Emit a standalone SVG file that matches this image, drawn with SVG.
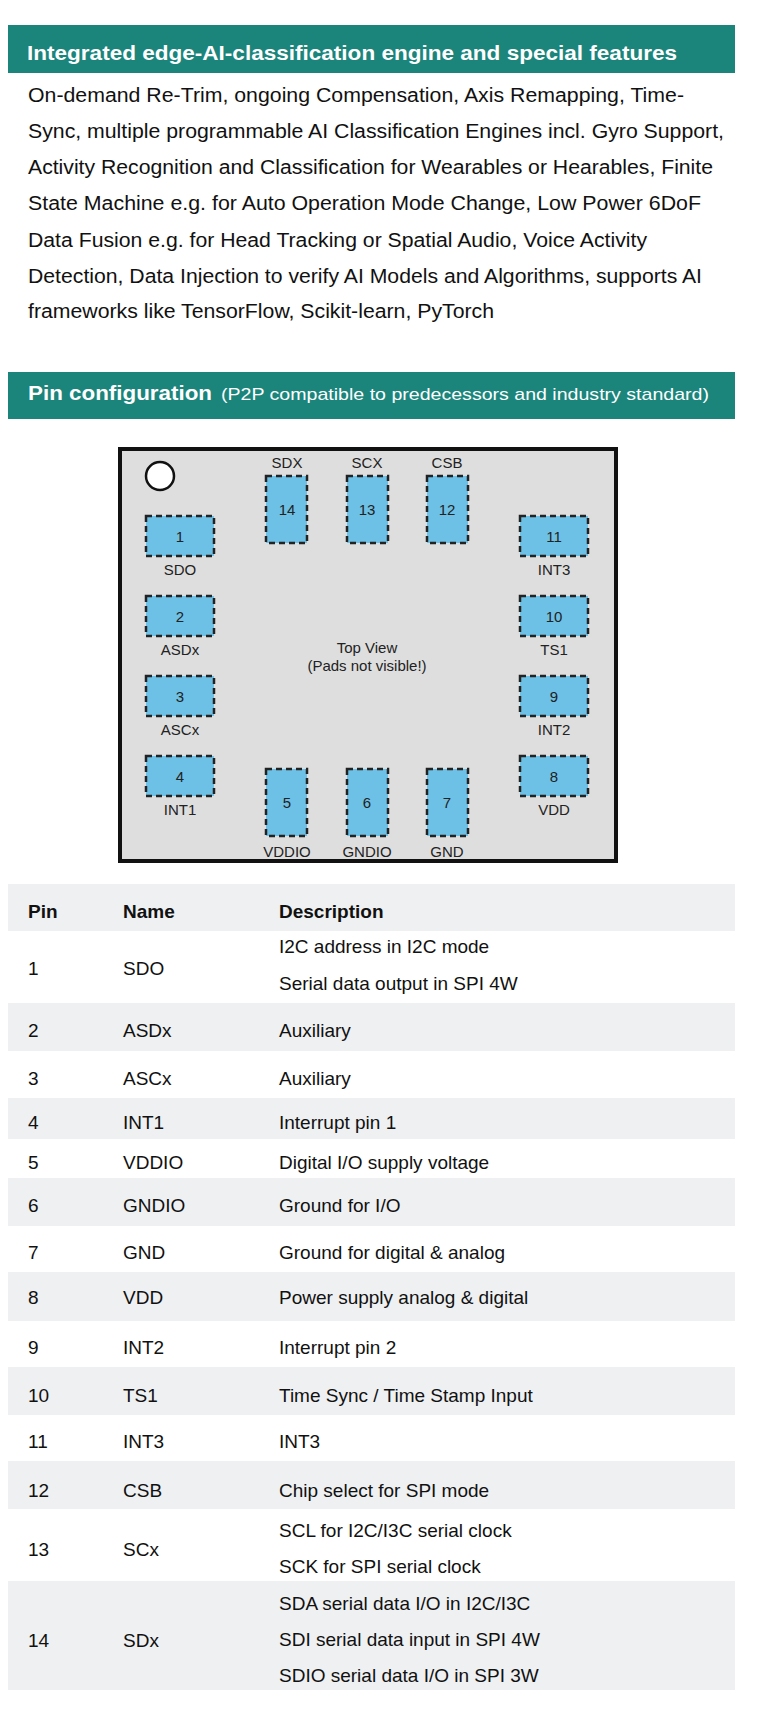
<svg xmlns="http://www.w3.org/2000/svg" width="759" height="1724" viewBox="0 0 759 1724">
<style>
.band{fill:#1b847b}
.ht{font-family:"Liberation Sans",Arial,sans-serif;font-weight:bold;font-size:20px;fill:#fff}
.hn{font-family:"Liberation Sans",Arial,sans-serif;font-size:17px;fill:#fff}
.body{font-family:"Liberation Sans",Arial,sans-serif;font-size:20px;fill:#111}
.pad{fill:#6dc1e6;stroke:#222;stroke-width:2.5;stroke-dasharray:6 4}
.pn{font-family:"Liberation Sans",Arial,sans-serif;font-size:15px;fill:#222;text-anchor:middle}
.row{fill:#eef0f2}
.th{font-family:"Liberation Sans",Arial,sans-serif;font-weight:bold;font-size:19px;fill:#111}
.td{font-family:"Liberation Sans",Arial,sans-serif;font-size:19px;fill:#111}
</style>
<rect width="759" height="1724" fill="#fff"/>
<g id="features">
<rect class="band" x="8" y="25" width="727" height="48"/>
<text class="ht" x="27" y="60" textLength="650" lengthAdjust="spacingAndGlyphs">Integrated edge-AI-classification engine and special features</text>
<text class="body" x="28" y="102" textLength="656" lengthAdjust="spacingAndGlyphs">On-demand Re-Trim, ongoing Compensation, Axis Remapping, Time-</text>
<text class="body" x="28" y="138" textLength="696" lengthAdjust="spacingAndGlyphs">Sync, multiple programmable AI Classification Engines incl. Gyro Support,</text>
<text class="body" x="28" y="174" textLength="685" lengthAdjust="spacingAndGlyphs">Activity Recognition and Classification for Wearables or Hearables, Finite</text>
<text class="body" x="28" y="210" textLength="673" lengthAdjust="spacingAndGlyphs">State Machine e.g. for Auto Operation Mode Change, Low Power 6DoF</text>
<text class="body" x="28" y="247" textLength="619" lengthAdjust="spacingAndGlyphs">Data Fusion e.g. for Head Tracking or Spatial Audio, Voice Activity</text>
<text class="body" x="28" y="283" textLength="674" lengthAdjust="spacingAndGlyphs">Detection, Data Injection to verify AI Models and Algorithms, supports AI</text>
<text class="body" x="28" y="318" textLength="466" lengthAdjust="spacingAndGlyphs">frameworks like TensorFlow, Scikit-learn, PyTorch</text>
</g>
<g id="pinconfig-header">
<rect class="band" x="8" y="372" width="727" height="47"/>
<text x="28" y="400"><tspan class="ht" textLength="184" lengthAdjust="spacingAndGlyphs">Pin configuration</tspan><tspan class="hn" x="221" textLength="488" lengthAdjust="spacingAndGlyphs">(P2P compatible to predecessors and industry standard)</tspan></text>
</g>
<g id="chip">
<rect x="120" y="449" width="496" height="412" fill="#dedede" stroke="#111" stroke-width="4"/>
<circle cx="160" cy="476" r="14" fill="#fff" stroke="#111" stroke-width="2.5"/>
<text class="pn" x="367" y="653">Top View</text>
<text class="pn" x="367" y="671">(Pads not visible!)</text>
</g>
<g id="pin1"><rect class="pad" x="146" y="516" width="68" height="40"/><text class="pn" x="180" y="542">1</text><text class="pn" x="180" y="575">SDO</text></g>
<g id="pin2"><rect class="pad" x="146" y="596" width="68" height="40"/><text class="pn" x="180" y="622">2</text><text class="pn" x="180" y="655">ASDx</text></g>
<g id="pin3"><rect class="pad" x="146" y="676" width="68" height="40"/><text class="pn" x="180" y="702">3</text><text class="pn" x="180" y="735">ASCx</text></g>
<g id="pin4"><rect class="pad" x="146" y="756" width="68" height="40"/><text class="pn" x="180" y="782">4</text><text class="pn" x="180" y="815">INT1</text></g>
<g id="pin11"><rect class="pad" x="520" y="516" width="68" height="40"/><text class="pn" x="554" y="542">11</text><text class="pn" x="554" y="575">INT3</text></g>
<g id="pin10"><rect class="pad" x="520" y="596" width="68" height="40"/><text class="pn" x="554" y="622">10</text><text class="pn" x="554" y="655">TS1</text></g>
<g id="pin9"><rect class="pad" x="520" y="676" width="68" height="40"/><text class="pn" x="554" y="702">9</text><text class="pn" x="554" y="735">INT2</text></g>
<g id="pin8"><rect class="pad" x="520" y="756" width="68" height="40"/><text class="pn" x="554" y="782">8</text><text class="pn" x="554" y="815">VDD</text></g>
<g id="pin14"><rect class="pad" x="266" y="476" width="41" height="67"/><text class="pn" x="287" y="515">14</text><text class="pn" x="287" y="468">SDX</text></g>
<g id="pin13"><rect class="pad" x="347" y="476" width="41" height="67"/><text class="pn" x="367" y="515">13</text><text class="pn" x="367" y="468">SCX</text></g>
<g id="pin12"><rect class="pad" x="427" y="476" width="41" height="67"/><text class="pn" x="447" y="515">12</text><text class="pn" x="447" y="468">CSB</text></g>
<g id="pin5"><rect class="pad" x="266" y="769" width="41" height="67"/><text class="pn" x="287" y="808">5</text><text class="pn" x="287" y="857">VDDIO</text></g>
<g id="pin6"><rect class="pad" x="347" y="769" width="41" height="67"/><text class="pn" x="367" y="808">6</text><text class="pn" x="367" y="857">GNDIO</text></g>
<g id="pin7"><rect class="pad" x="427" y="769" width="41" height="67"/><text class="pn" x="447" y="808">7</text><text class="pn" x="447" y="857">GND</text></g>
<g id="connectors"></g>
<g id="table">
<rect class="row" x="8" y="884" width="727" height="47"/>
<rect class="row" x="8" y="1003" width="727" height="48"/>
<rect class="row" x="8" y="1098" width="727" height="41"/>
<rect class="row" x="8" y="1178" width="727" height="48"/>
<rect class="row" x="8" y="1272" width="727" height="49"/>
<rect class="row" x="8" y="1367" width="727" height="48"/>
<rect class="row" x="8" y="1461" width="727" height="48"/>
<rect class="row" x="8" y="1581" width="727" height="109"/>
<text class="th" x="28" y="918">Pin</text><text class="th" x="123" y="918">Name</text><text class="th" x="279" y="918">Description</text>
<text class="td" x="28" y="975">1</text><text class="td" x="123" y="975">SDO</text><text class="td" x="279" y="953">I2C address in I2C mode</text><text class="td" x="279" y="990">Serial data output in SPI 4W</text>
<text class="td" x="28" y="1037">2</text><text class="td" x="123" y="1037">ASDx</text><text class="td" x="279" y="1037">Auxiliary</text>
<text class="td" x="28" y="1085">3</text><text class="td" x="123" y="1085">ASCx</text><text class="td" x="279" y="1085">Auxiliary</text>
<text class="td" x="28" y="1129">4</text><text class="td" x="123" y="1129">INT1</text><text class="td" x="279" y="1129">Interrupt pin 1</text>
<text class="td" x="28" y="1169">5</text><text class="td" x="123" y="1169">VDDIO</text><text class="td" x="279" y="1169">Digital I/O supply voltage</text>
<text class="td" x="28" y="1212">6</text><text class="td" x="123" y="1212">GNDIO</text><text class="td" x="279" y="1212">Ground for I/O</text>
<text class="td" x="28" y="1259">7</text><text class="td" x="123" y="1259">GND</text><text class="td" x="279" y="1259">Ground for digital &amp; analog</text>
<text class="td" x="28" y="1304">8</text><text class="td" x="123" y="1304">VDD</text><text class="td" x="279" y="1304">Power supply analog &amp; digital</text>
<text class="td" x="28" y="1354">9</text><text class="td" x="123" y="1354">INT2</text><text class="td" x="279" y="1354">Interrupt pin 2</text>
<text class="td" x="28" y="1402">10</text><text class="td" x="123" y="1402">TS1</text><text class="td" x="279" y="1402">Time Sync / Time Stamp Input</text>
<text class="td" x="28" y="1448">11</text><text class="td" x="123" y="1448">INT3</text><text class="td" x="279" y="1448">INT3</text>
<text class="td" x="28" y="1497">12</text><text class="td" x="123" y="1497">CSB</text><text class="td" x="279" y="1497">Chip select for SPI mode</text>
<text class="td" x="28" y="1556">13</text><text class="td" x="123" y="1556">SCx</text><text class="td" x="279" y="1537">SCL for I2C/I3C serial clock</text><text class="td" x="279" y="1573">SCK for SPI serial clock</text>
<text class="td" x="28" y="1647">14</text><text class="td" x="123" y="1647">SDx</text><text class="td" x="279" y="1610">SDA serial data I/O in I2C/I3C</text><text class="td" x="279" y="1646">SDI serial data input in SPI 4W</text><text class="td" x="279" y="1682">SDIO serial data I/O in SPI 3W</text>
</g>
</svg>
